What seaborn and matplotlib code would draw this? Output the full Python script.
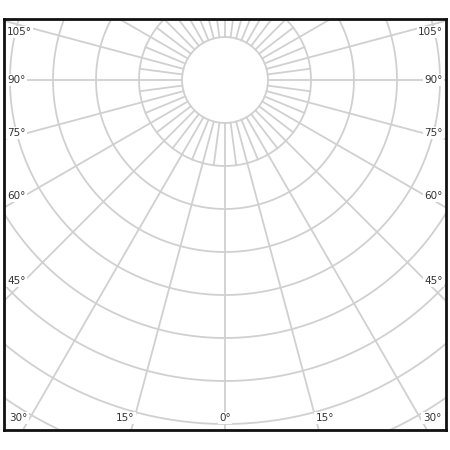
import numpy as np
import pandas as pd
import matplotlib
matplotlib.use('Agg')
import matplotlib.pyplot as plt
import seaborn as sns

red_left_ang = [0, 7, 16, 22, 28, 33, 38, 45, 47, 52, 54, 58, 60, 61, 68, 76, 90]
red_left_val = [7.05, 7.0, 6.75, 6.47, 6.19, 5.9, 5.51, 4.79, 4.67, 4.23, 3.86, 3.23, 2.47, 1.53, 0.95, 0.28, 0]
red_right_ang = [7, 13.5, 23, 32.5, 41, 47.5, 52, 58, 59, 61.5, 70, 90]
red_right_val = [6.98, 6.77, 6.44, 5.84, 5.12, 4.58, 4.07, 3.16, 2.4, 1.47, 0.7, 0]
blue_left_ang = [0, 7, 16, 22, 28, 35, 40, 45, 48, 52, 58.5, 65, 71, 76, 90]
blue_left_val = [7.05, 7.0, 6.72, 6.45, 6.16, 5.7, 5.3, 4.78, 4.42, 3.77, 3.0, 2.19, 1.28, 0.6, 0]
blue_right_ang = [6, 12, 19, 31, 42, 47.5, 52, 58.5, 63, 70, 76, 90]
blue_right_val = [7.02, 6.95, 6.58, 6.05, 5.19, 4.72, 4.14, 3.14, 2.4, 1.35, 0.67, 0]

label_txt = ['105°', '90°', '75°', '60°', '45°']
label_y_px = [32, 80, 133, 196, 281]
bottom_txt = ['30°', '15°', '0°', '15°', '30°']
bottom_x_px = [18, 125, 225, 325, 432]


def curve(ang_l, val_l, ang_r, val_r):
    a = np.r_[np.array(ang_l)[::-1], ang_r]
    v = np.r_[np.array(val_l)[::-1], val_r]
    s = np.r_[-np.ones(len(ang_l)), np.ones(len(ang_r))]
    t = np.deg2rad(a)
    return pd.DataFrame({'x': s * v * np.sin(t), 'y': -v * np.cos(t),
                         'i': np.arange(len(a))})


fig = plt.figure(figsize=(4.5, 4.5), dpi=100)
ax = fig.add_axes([4/450, 20/450, 442/450, 411/450])
ax.set_xlim(-221/43, 221/43)
ax.set_ylim(-350/43, 61/43)
ax.set_xticks([]); ax.set_yticks([])
for s in ax.spines.values():
    s.set_linewidth(2); s.set_color('#111111')

gc = '#d0d0d0'
tt = np.linspace(0, 2*np.pi, 400)
for r in range(1, 13):
    ax.plot(r*np.cos(tt), r*np.sin(tt), color=gc, lw=1.3, zorder=1)
for a in np.arange(0, 360, 15):
    t = np.deg2rad(a)
    ax.plot([np.sin(t), 14*np.sin(t)], [-np.cos(t), -14*np.cos(t)], color=gc, lw=1.3, zorder=1)
for a in np.arange(7.5, 360, 15):
    t = np.deg2rad(a)
    ax.plot([np.sin(t), 2*np.sin(t)], [-np.cos(t), -2*np.cos(t)], color=gc, lw=1.3, zorder=1)

for df, col, z in [(curve(red_left_ang, red_left_val, red_right_ang, red_right_val), '#e01818', 3),
                   (curve(blue_left_ang, blue_left_val, blue_right_ang, blue_right_val), '#1414d2', 4)]:
    sns.lineplot(data=df, x='x', y='y', units='i', estimator=None, sort=False,
                 color=col, lw=2, ax=ax, zorder=z)
ax.set_xlabel(''); ax.set_ylabel('')

box = dict(facecolor='white', edgecolor='none', pad=1)
for txt, py in zip(label_txt, label_y_px):
    for px, ha in [(7, 'left'), (443, 'right')]:
        ax.text((px-225)/43, (80-py)/43, txt, ha=ha, va='center', fontsize=7.5,
                color='#333333', bbox=box, zorder=5)
for txt, px in zip(bottom_txt, bottom_x_px):
    ax.text((px-225)/43, (80-418)/43, txt, ha='center', va='center', fontsize=7.5,
            color='#333333', bbox=box, zorder=5)

fig.savefig('out.png', dpi=100)
